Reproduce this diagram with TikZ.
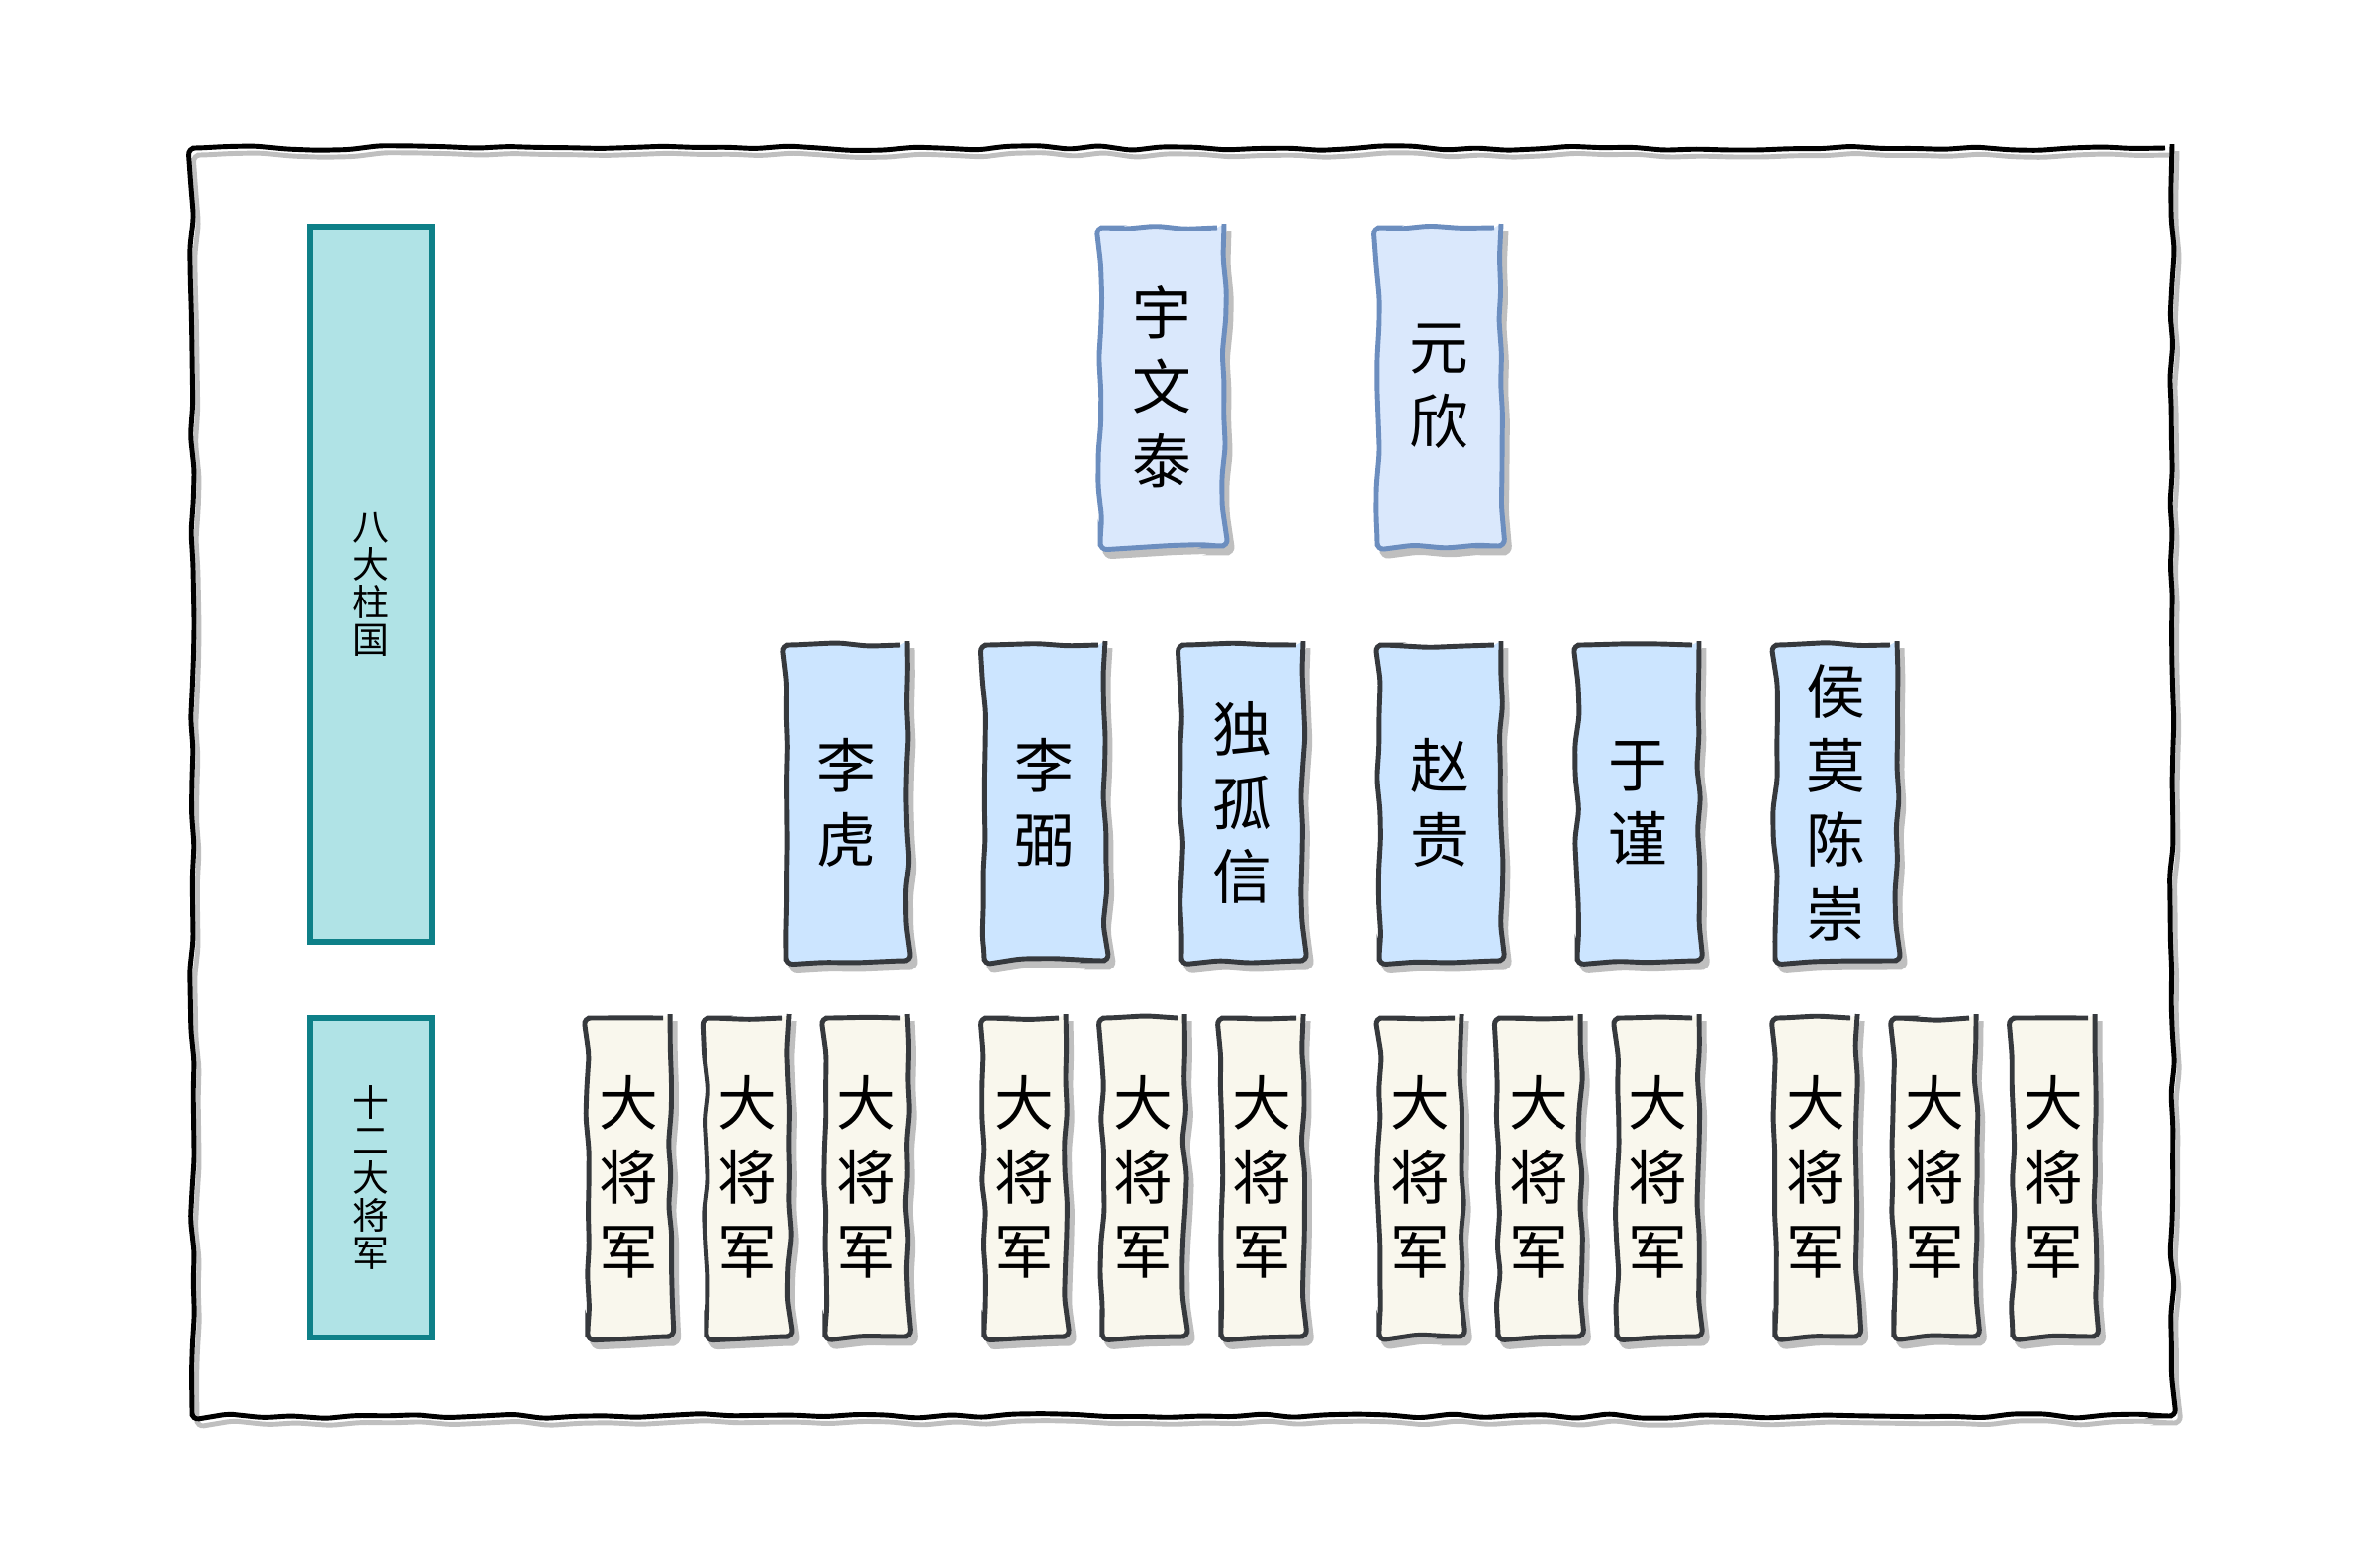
\documentclass[tikz,border=0pt]{standalone}
\usepackage{fontspec}
\setmainfont{Noto Sans CJK SC}
\usetikzlibrary{decorations.pathmorphing}
\definecolor{sidefill}{HTML}{B0E3E6}
\definecolor{sideline}{HTML}{0E8088}
\definecolor{topfill}{HTML}{DAE8FC}
\definecolor{topline}{HTML}{6C8EBF}
\definecolor{midfill}{HTML}{CCE5FF}
\definecolor{darkline}{HTML}{36393D}
\definecolor{genfill}{HTML}{F9F7ED}

\begin{document}
\pgfmathsetseed{7}
\begin{tikzpicture}[line width=1.4pt,
    sketch/.style = {decorate, decoration={random steps, segment length=9pt, amplitude=0.7pt}, rounded corners=2pt},
    shadowed/.style = {preaction={draw=black!25, fill=black!25, transform canvas={xshift=0.5mm, yshift=-0.7mm}}},
    bigtext/.style = {align=center, font=\fontsize{17}{21.3}\selectfont},
    frame/.style = {draw=black, sketch, preaction={draw=black!25, transform canvas={xshift=0.5mm, yshift=-0.7mm}}, minimum width=20.01cm, minimum height=12.81cm},
    sidebox/.style = {draw=sideline, fill=sidefill, line width=1.5pt, minimum width=1.24cm, align=center, font=\fontsize{10.5}{10.8}\selectfont},
    topbox/.style = {sketch, shadowed, draw=topline, fill=topfill, bigtext, minimum width=1.25cm, minimum height=3.22cm},
    pillarbox/.style = {sketch, shadowed, draw=darkline, fill=midfill, bigtext, minimum width=1.23cm, minimum height=3.19cm},
    generalbox/.style = {sketch, shadowed, draw=darkline, fill=genfill, bigtext, minimum width=0.83cm, minimum height=3.22cm}]
    \useasboundingbox (0,0) rectangle (23.82,-15.84);
    \node[frame] (frame) at (11.945,-7.905) {};
    \node[sidebox, minimum height=7.23cm] (pillars) at (3.75,-5.905) {八\\大\\柱\\国};
    \node[sidebox, minimum height=3.23cm] (generals) at (3.75,-11.905) {十\\二\\大\\将\\军};
    \node[topbox] (yuwen) at (11.745,-3.91) {宇\\文\\泰};
    \node[topbox] (yuanxin) at (14.545,-3.91) {元\\欣};
    \foreach \name [count=\i from 0] in {{李\\虎},{李\\弼},{独\\孤\\信},{赵\\贵},{于\\谨},{侯\\莫\\陈\\崇}}
        \node[pillarbox] (pillar\i) at (8.555+2*\i,-8.115) {\name};
    \foreach \g in {0,...,3}
        \foreach \k in {0,1,2}
            \node[generalbox] (gen\g\k) at (6.355+4*\g+1.2*\k,-11.9) {大\\将\\军};
\end{tikzpicture}
\end{document}
